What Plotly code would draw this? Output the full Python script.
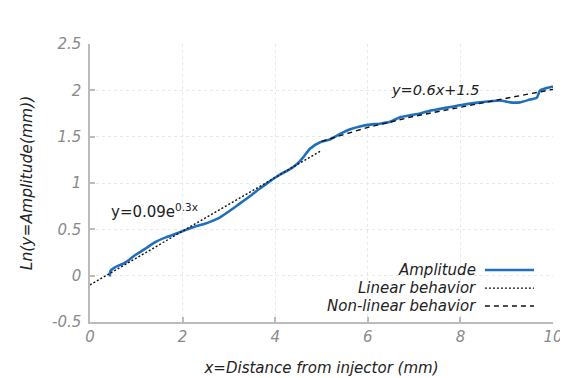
import plotly.graph_objects as go

# Amplitude curve
amp_x = [0.43, 0.44, 0.54, 0.76, 0.97, 1.19, 1.40, 1.62, 1.84, 2.05, 2.27, 2.48, 2.59, 2.81,
         3.02, 3.24, 3.46, 3.67, 3.89, 4.10, 4.32, 4.46, 4.61, 4.75, 4.97, 5.18, 5.40, 5.62,
         5.83, 6.05, 6.26, 6.48, 6.70, 6.91, 7.13, 7.34, 7.56, 7.99, 8.42, 8.86, 9.07, 9.29,
         9.50, 9.65, 9.72, 9.83, 10.0]
amp_y = [-0.01, 0.05, 0.09, 0.14, 0.22, 0.29, 0.36, 0.41, 0.45, 0.49, 0.53, 0.56, 0.58, 0.63,
         0.70, 0.78, 0.86, 0.94, 1.02, 1.09, 1.15, 1.20, 1.28, 1.37, 1.44, 1.47, 1.53, 1.58,
         1.61, 1.63, 1.64, 1.66, 1.71, 1.73, 1.75, 1.78, 1.80, 1.84, 1.87, 1.89, 1.87, 1.87,
         1.90, 1.92, 2.00, 2.02, 2.04]

# Linear behavior (dotted fit)
lin_x = [0.0, 5.0]
lin_y = [-0.1, 1.35]

# Non-linear behavior (dashed fit)
nl_x = [5.0, 6.0, 7.0, 8.0, 9.0, 10.0]
nl_y = [1.45, 1.60, 1.72, 1.82, 1.915, 2.01]

x_ticks = [0, 2, 4, 6, 8, 10]
y_ticks = [-0.5, 0, 0.5, 1, 1.5, 2, 2.5]

legend_names = ["Amplitude", "Linear behavior", "Non-linear behavior"]

FONT = "DejaVu Sans"
BLUE = "#1f6fbf"
DOT = "2px,2px"
DASH = "5px,4px"

fig = go.Figure()
fig.add_trace(go.Scatter(x=amp_x, y=amp_y, mode="lines", name=legend_names[0],
                         line=dict(color=BLUE, width=2.6, shape="spline", smoothing=0.6)))
fig.add_trace(go.Scatter(x=lin_x, y=lin_y, mode="lines", name=legend_names[1],
                         line=dict(color="#111111", width=1.4, dash=DOT)))
fig.add_trace(go.Scatter(x=nl_x, y=nl_y, mode="lines", name=legend_names[2],
                         line=dict(color="#111111", width=1.4, dash=DASH)))

axis_common = dict(
    showline=True, linecolor="#bbbbbb", linewidth=1.5,
    ticks="inside", ticklen=5, tickcolor="#bbbbbb", tickwidth=1.5,
    showgrid=True, gridcolor="#e8e8e8", griddash="dot", gridwidth=1,
    zeroline=False, automargin=False,
    tickfont=dict(family=FONT, size=15, color="#8a8a8a", style="italic"),
    mirror=False,
)

fig.update_layout(
    width=568, height=378,
    margin=dict(l=82, r=23, t=36, b=64),
    paper_bgcolor="white", plot_bgcolor="white",
    showlegend=False,
    font=dict(family=FONT),
    xaxis=dict(range=[0, 10], tickvals=x_ticks, ticktext=[str(v) for v in x_ticks],
               title=dict(text="x=Distance from injector (mm)", standoff=18,
                          font=dict(family=FONT, size=15, color="#222222", style="italic")),
               **axis_common),
    yaxis=dict(range=[-0.5, 2.5], tickvals=y_ticks,
               ticktext=["-0.5", "0", "0.5", "1", "1.5", "2", "2.5"],
               ticklabelstandoff=4,
               title=dict(text="Ln(y=Amplitude(mm))", standoff=16,
                          font=dict(family=FONT, size=15.5, color="#222222", style="italic")),
               **axis_common),
)

fig.add_annotation(x=0.42, y=0.70, xref="x", yref="y", xanchor="left", yanchor="middle",
                   text="y=0.09e<sup>0.3x</sup>", showarrow=False,
                   font=dict(family=FONT, size=15, color="#222222"))
fig.add_annotation(x=6.45, y=2.0, xref="x", yref="y", xanchor="left", yanchor="middle",
                   text="y=0.6x+1.5", showarrow=False,
                   font=dict(family=FONT, size=14.5, color="#222222", style="italic"))

# Custom legend: text right-aligned, sample line on the right
rows_y = [0.187, 0.122, 0.0576]
styles = [dict(color=BLUE, width=2.6, dash="solid"),
          dict(color="#111111", width=1.4, dash=DOT),
          dict(color="#111111", width=1.4, dash=DASH)]
for name, ry, st in zip(legend_names, rows_y, styles):
    fig.add_annotation(x=0.838, y=ry, xref="paper", yref="paper", xanchor="right",
                       yanchor="middle", text=name, showarrow=False,
                       font=dict(family=FONT, size=15, color="#222222", style="italic"))
    fig.add_shape(type="line", xref="paper", yref="paper", x0=0.853, x1=0.959,
                  y0=ry, y1=ry, line=st)

fig.write_html("out.html")
